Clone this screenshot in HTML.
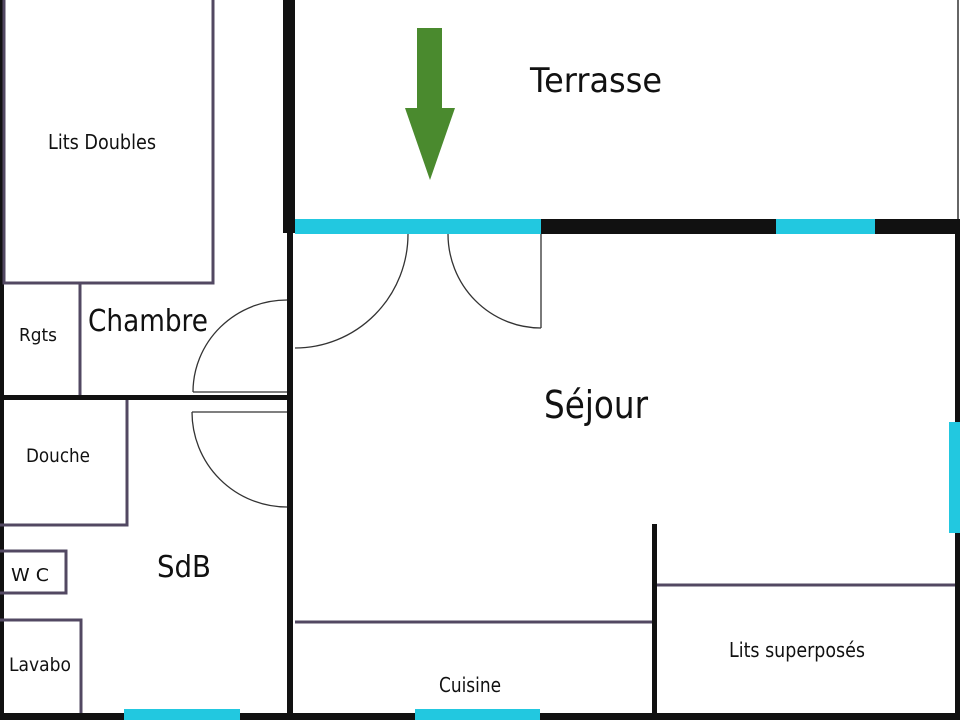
<!DOCTYPE html>
<html><head><meta charset="utf-8"><style>
html,body{margin:0;padding:0;background:#fff;width:960px;height:720px;overflow:hidden}
svg{display:block}
text{font-family:"DejaVu Sans","Liberation Sans",sans-serif;fill:#111}
</style></head><body>
<svg width="960" height="720" viewBox="0 0 960 720" xmlns="http://www.w3.org/2000/svg">
<rect width="960" height="720" fill="#fff"/>
<rect x="0" y="0" width="4" height="720" fill="#111"/>
<rect x="283" y="0" width="12" height="233" fill="#111"/>
<rect x="287" y="233" width="6" height="487" fill="#111"/>
<rect x="295" y="219" width="246" height="15" fill="#22c8e0"/>
<rect x="541" y="219" width="235" height="15" fill="#111"/>
<rect x="776" y="219" width="99" height="15" fill="#22c8e0"/>
<rect x="875" y="219" width="85" height="15" fill="#111"/>
<rect x="957" y="0" width="2" height="219" fill="#666"/>
<rect x="955" y="219" width="5" height="501" fill="#111"/>
<rect x="949" y="422" width="11" height="111" fill="#22c8e0"/>
<rect x="0" y="713" width="960" height="7" fill="#111"/>
<rect x="124" y="709" width="116" height="11" fill="#22c8e0"/>
<rect x="415" y="709" width="125" height="11" fill="#22c8e0"/>
<rect x="652" y="524" width="5" height="196" fill="#111"/>
<rect x="0" y="395" width="290" height="5" fill="#111"/>
<g stroke="#524862" stroke-width="3" fill="none">
<polyline points="4,0 4,283 213,283 213,0"/>
<line x1="80" y1="283" x2="80" y2="395"/>
<polyline points="0,525 127,525 127,400"/>
<polyline points="0,551 66,551 66,593 0,593"/>
<polyline points="0,620 81,620 81,713"/>
<line x1="295" y1="622" x2="652" y2="622"/>
<line x1="657" y1="585" x2="955" y2="585"/>
</g>
<g stroke="#333" stroke-width="1.3" fill="none">
<path d="M408,234 A113,114 0 0 1 295,348"/>
<path d="M448,234 A93,94 0 0 0 541,328"/>
<line x1="541" y1="234" x2="541" y2="328"/>
<path d="M287,300 A94,92 0 0 0 193,392"/>
<line x1="193" y1="392" x2="287" y2="392"/>
<line x1="192" y1="412" x2="287" y2="412"/>
<path d="M192,412 A95,95 0 0 0 287,507"/>
</g>
<rect x="417" y="28" width="25" height="82" fill="#4a8a2e"/>
<polygon points="405,108 455,108 430,180" fill="#4a8a2e"/>
<text x="596" y="92" font-size="34" text-anchor="middle" textLength="132" lengthAdjust="spacingAndGlyphs">Terrasse</text>
<text x="596" y="418" font-size="38" text-anchor="middle" textLength="104" lengthAdjust="spacingAndGlyphs">Séjour</text>
<text x="148" y="331" font-size="30" text-anchor="middle" textLength="120" lengthAdjust="spacingAndGlyphs">Chambre</text>
<text x="102" y="149" font-size="20" text-anchor="middle" textLength="108" lengthAdjust="spacingAndGlyphs">Lits Doubles</text>
<text x="38" y="341" font-size="18" text-anchor="middle" textLength="38" lengthAdjust="spacingAndGlyphs">Rgts</text>
<text x="58" y="462" font-size="19" text-anchor="middle" textLength="64" lengthAdjust="spacingAndGlyphs">Douche</text>
<text x="30" y="581" font-size="18" text-anchor="middle" textLength="38" lengthAdjust="spacingAndGlyphs">W C</text>
<text x="184" y="577" font-size="30" text-anchor="middle" textLength="54" lengthAdjust="spacingAndGlyphs">SdB</text>
<text x="40" y="671" font-size="19" text-anchor="middle" textLength="62" lengthAdjust="spacingAndGlyphs">Lavabo</text>
<text x="470" y="692" font-size="20" text-anchor="middle" textLength="62" lengthAdjust="spacingAndGlyphs">Cuisine</text>
<text x="797" y="657" font-size="20" text-anchor="middle" textLength="136" lengthAdjust="spacingAndGlyphs">Lits superposés</text>
</svg>
</body></html>
